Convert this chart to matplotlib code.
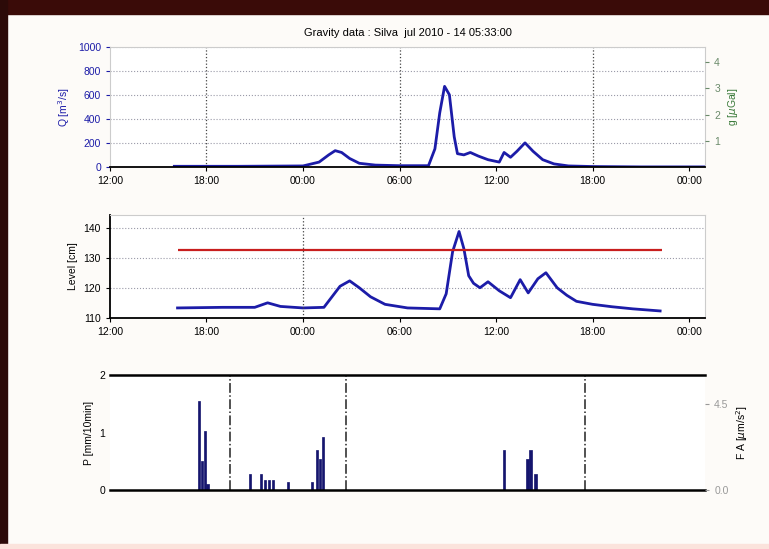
import numpy as np
import matplotlib
matplotlib.use('Agg')
import matplotlib.pyplot as plt
from matplotlib.patches import Rectangle

plt.rcParams['font.family'] = ['Liberation Sans', 'DejaVu Sans']
plt.rcParams['font.size'] = 7.5

# --- data (time in hours) ---
tick_hours = [0, 6, 12, 18, 24, 30, 36]
top_labels = ['12:00', '18:00', '00:00', '06:00', '12:00', '18:00', '00:00']
mid_labels = ['12:00', '18:00', '00:00', '06:00', '12:00', '18:00', '00:00']

t_flow = [4.0, 8.0, 12.0, 13.0, 13.6, 14.0, 14.4, 14.9, 15.5, 16.5, 18.0, 19.8, 20.2,
          20.5, 20.8, 21.1, 21.4, 21.6, 22.0, 22.4, 22.9, 23.5, 24.2, 24.5, 24.9,
          25.3, 25.8, 26.3, 26.9, 27.6, 28.5, 30.0, 33.0, 37.0]
flow = [5, 5, 8, 40, 100, 135, 120, 70, 30, 15, 10, 10, 150,
        450, 670, 600, 250, 110, 100, 120, 90, 60, 40, 120, 80,
        130, 200, 130, 60, 25, 8, 3, 0, 0]

t_level = [4.2, 7.0, 9.0, 9.8, 10.6, 12.0, 13.3, 14.3, 14.9, 15.5, 16.2, 17.1, 18.5,
           20.5, 20.9, 21.3, 21.7, 22.0, 22.3, 22.6, 23.0, 23.5, 24.2, 24.9, 25.5,
           26.0, 26.6, 27.1, 27.8, 28.4, 29.0, 30.0, 31.2, 32.5, 34.2]
level = [113.3, 113.5, 113.5, 115.0, 113.8, 113.3, 113.5, 120.5, 122.3, 120.0, 117.0, 114.5, 113.3,
         113.0, 118.0, 132.0, 138.7, 133.0, 124.0, 121.5, 120.0, 122.0, 119.0, 116.7, 122.7,
         118.3, 123.0, 125.0, 120.0, 117.5, 115.5, 114.5, 113.7, 113.0, 112.3]
threshold = 132.7
thr_start, thr_end = 4.2, 34.3

t_rain = [5.53, 5.72, 5.91, 6.05, 8.71, 9.39, 9.64, 9.89, 10.14, 11.07, 12.56, 12.87,
          13.06, 13.25, 24.5, 25.95, 26.12, 26.43]
rain = [1.55, 0.5, 1.03, 0.1, 0.29, 0.29, 0.18, 0.17, 0.17, 0.15, 0.15, 0.69,
        0.55, 0.93, 0.69, 0.55, 0.69, 0.29]
events = [7.46, 14.7, 29.5]
day_lines = [6, 18, 30]

blue = '#1c1ca8'
navy = '#15156e'

fig = plt.figure(figsize=(7.69, 5.49), dpi=100, facecolor='#fdfbf8')
fig.patches.append(Rectangle((0, 1 - 14 / 549), 1, 14 / 549, transform=fig.transFigure,
                             color='#3a0b08', zorder=-1))
fig.patches.append(Rectangle((0, 0), 7 / 769, 1, transform=fig.transFigure,
                             color='#2c0a08', zorder=-1))
fig.patches.append(Rectangle((0, 0), 1, 5 / 549, transform=fig.transFigure,
                             color='#fbe3dc', zorder=-1))

# panel 1: discharge
ax1 = fig.add_axes([0.143, 0.696, 0.774, 0.219])
ax1.plot(t_flow, flow, color=blue, lw=2)
ax1.set_xlim(0, 37)
ax1.set_ylim(0, 1000)
ax1.set_yticks([0, 200, 400, 600, 800, 1000])
ax1.set_xticks(tick_hours)
ax1.set_xticklabels(top_labels)
ax1.tick_params(axis='y', colors=blue, length=3)
ax1.tick_params(axis='x', length=3)
ax1.set_ylabel('Q [m$^3$/s]', color=blue)
ax1.yaxis.grid(True, ls=':', color='#9a9aa8', lw=0.8)
for d in day_lines:
    ax1.axvline(d, ls=':', color='#444444', lw=0.9)
for s in ['top', 'right', 'left']:
    ax1.spines[s].set_color('#cccccc')
ax1.spines['bottom'].set_linewidth(1.3)
ax1.set_title('Gravity data : Silva  jul 2010 - 14 05:33:00', fontsize=8, pad=8)
ax1r = ax1.twinx()
ax1r.set_ylim(0, 4.6)
ax1r.set_yticks([1, 2, 3, 4])
ax1r.tick_params(colors='#6a8a6a', length=3)
ax1r.set_ylabel('g [$\\mu$Gal]', color='#3a7a3a')
for s in ['top', 'right', 'left', 'bottom']:
    ax1r.spines[s].set_visible(False)

# panel 2: water level
ax2 = fig.add_axes([0.143, 0.421, 0.774, 0.188])
ax2.plot(t_level, level, color=blue, lw=2)
ax2.hlines(threshold, thr_start, thr_end, color='#c81e1e', lw=1.6)
ax2.set_xlim(0, 37)
ax2.set_ylim(110, 144.3)
ax2.set_yticks([110, 120, 130, 140])
ax2.set_xticks(tick_hours)
ax2.set_xticklabels(mid_labels)
ax2.tick_params(length=3)
ax2.set_ylabel('Level [cm]')
ax2.yaxis.grid(True, ls=':', color='#9a9aa8', lw=0.8)
ax2.axvline(12, ls=':', color='#444444', lw=0.9)
ax2.spines['top'].set_color('#cccccc')
ax2.spines['right'].set_color('#cccccc')
ax2.spines['left'].set_linewidth(1.3)
ax2.spines['bottom'].set_linewidth(1.3)

# panel 3: rainfall
ax3 = fig.add_axes([0.143, 0.107, 0.774, 0.21])
ax3.bar(t_rain, rain, width=0.17, color=navy, edgecolor=navy, lw=0.5)
for e in events:
    ax3.axvline(e, ls='-.', color='#222222', lw=1.1)
ax3.set_xlim(0, 37)
ax3.set_ylim(0, 2)
ax3.set_yticks([0, 1, 2])
ax3.set_xticks([])
ax3.tick_params(length=0)
ax3.set_ylabel('P [mm/10min]')
ax3.spines['left'].set_visible(False)
ax3.spines['right'].set_visible(False)
ax3.spines['top'].set_linewidth(1.8)
ax3.spines['bottom'].set_linewidth(1.8)
ax3r = ax3.twinx()
ax3r.set_ylim(0, 6)
ax3r.set_yticks([0, 4.5])
ax3r.tick_params(colors='#999999', length=3)
ax3r.set_ylabel('F A [$\\mu$m/s$^2$]')
for s in ['top', 'right', 'left', 'bottom']:
    ax3r.spines[s].set_visible(False)

fig.savefig('out.png', dpi=100, facecolor=fig.get_facecolor())
